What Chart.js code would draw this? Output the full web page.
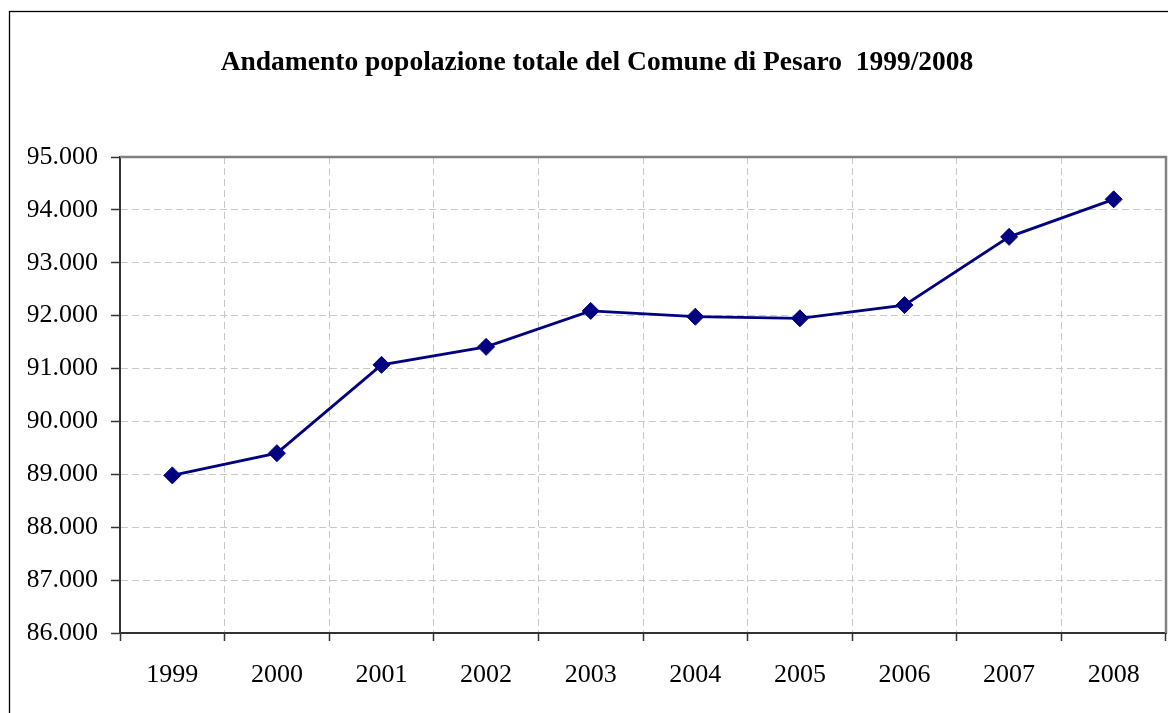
<!DOCTYPE html>
<html>
<head>
<meta charset="utf-8">
<script src="https://cdn.jsdelivr.net/npm/chart.js@4/dist/chart.umd.min.js"></script>
<style>
html,body{margin:0;padding:0;background:#fff;}
#wrap{position:relative;width:1168px;height:713px;}
</style>
</head>
<body>
<div id="wrap"><canvas id="c" width="1168" height="713"></canvas></div>
<script>
const years = ['1999','2000','2001','2002','2003','2004','2005','2006','2007','2008'];
const population = [88980, 89400, 91070, 91410, 92090, 91980, 91950, 92200, 93490, 94200];
const yMin = 86000, yMax = 95000, yStep = 1000;
const titleText = 'Andamento popolazione totale del Comune di Pesaro  1999/2008';

const serif = '"Liberation Serif", "Times New Roman", Times, serif';
function fmt(v){ return String(v).replace(/\B(?=(\d{3})+(?!\d))/g, '.'); }

const frame = {
  id: 'frame',
  beforeDraw(chart){
    const ctx = chart.ctx;
    ctx.save();
    ctx.strokeStyle = '#000';
    ctx.lineWidth = 1.3;
    ctx.strokeRect(9.5, 11.5, 2000, 2000);
    ctx.restore();
  },
  afterDatasetsDraw(chart){
    const a = chart.chartArea, ctx = chart.ctx;
    ctx.save();
    ctx.strokeStyle = '#808080';
    ctx.lineWidth = 2.5;
    ctx.beginPath();
    ctx.moveTo(a.left, a.top);
    ctx.lineTo(a.right, a.top);
    ctx.lineTo(a.right, a.bottom);
    ctx.stroke();
    ctx.restore();
  }
};

new Chart(document.getElementById('c'), {
  type: 'line',
  data: {
    labels: years,
    datasets: [{
      data: population,
      borderColor: '#000080',
      backgroundColor: '#000080',
      borderWidth: 2.8,
      pointStyle: 'rectRot',
      pointRadius: 8.5,
      pointBorderWidth: 1,
      pointBackgroundColor: '#000080',
      pointBorderColor: '#000080',
      tension: 0,
      fill: false,
      clip: false
    }]
  },
  options: {
    responsive: false,
    animation: false,
    devicePixelRatio: 1,
    layout: { autoPadding: false, padding: { left: 28, right: 2, top: 0, bottom: 0 } },
    plugins: {
      legend: { display: false },
      tooltip: { enabled: false },
      title: {
        display: true,
        text: titleText,
        color: '#000',
        font: { family: serif, size: 27.5, weight: 'bold' },
        padding: { top: 46, bottom: 78 }
      }
    },
    scales: {
      x: {
        offset: true,
        grid: {
          offset: true,
          color: '#c8c8c8',
          lineWidth: 1,
          drawTicks: true,
          tickLength: 8,
          tickColor: '#333',
          tickWidth: 1.5,
          tickBorderDash: []
        },
        border: { display: true, color: '#333', width: 2, dash: [7, 4] },
        ticks: {
          color: '#000',
          font: { family: serif, size: 26 },
          padding: 19,
          maxRotation: 0,
          autoSkip: false
        },
        afterFit(scale){ scale.height = 80; scale.paddingLeft = 0; scale.paddingRight = 0; }
      },
      y: {
        min: yMin,
        max: yMax,
        grid: {
          color: '#c8c8c8',
          lineWidth: 1,
          drawTicks: true,
          tickLength: 9,
          tickColor: '#333',
          tickWidth: 1.5,
          tickBorderDash: []
        },
        border: { display: true, color: '#333', width: 2, dash: [7, 4] },
        ticks: {
          stepSize: yStep,
          color: '#000',
          font: { family: serif, size: 26 },
          padding: 13,
          callback: (v) => fmt(v)
        },
        afterFit(scale){ scale.width = 92; }
      }
    }
  },
  plugins: [frame]
});
</script>
</body>
</html>
